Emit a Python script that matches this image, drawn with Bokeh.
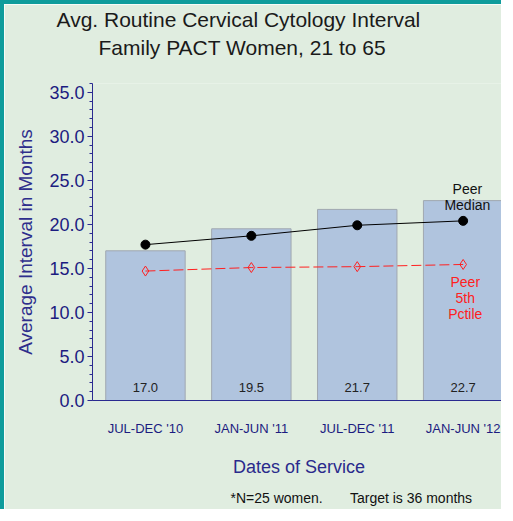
from bokeh.plotting import figure
from bokeh.models import Range1d, FixedTicker, SingleIntervalTicker, NumeralTickFormatter, ColumnDataSource, Title
from bokeh.embed import file_html
from bokeh.resources import INLINE
from bokeh.core.properties import value

categories = ["JUL-DEC '10", "JAN-JUN '11", "JUL-DEC '11", "JAN-JUN '12"]
avg_interval = [17.0, 19.5, 21.7, 22.7]
peer_median = [17.7, 18.7, 19.9, 20.4]
peer_5th = [14.7, 15.1, 15.2, 15.45]
xpos = [0.5, 1.5, 2.5, 3.5]

BG = "#E0EDE0"
NAVY = "#1c1c80"
FONT = "Liberation Sans"

p = figure(width=501, height=509, output_backend="svg", toolbar_location=None,
           x_range=Range1d(0, 3.9), y_range=Range1d(0, 36),
           min_border_left=88, min_border_right=0, min_border_top=79, min_border_bottom=112)
p.background_fill_color = BG
p.border_fill_color = BG
p.outline_line_color = None
p.xgrid.visible = False
p.ygrid.visible = False
p.styles = {"border-left": "4px solid #0E9C9C", "border-top": "4px solid #0E9C9C"}

src = ColumnDataSource(dict(x=xpos, top=avg_interval, med=peer_median, p5=peer_5th,
                            lab=["%.1f" % v for v in avg_interval]))
p.vbar(x="x", top="top", width=0.75, bottom=0, source=src,
       fill_color="#B0C4DE", line_color="#A0A8B0", line_width=1)
p.text(x="x", y=1.5, text="lab", source=src, text_align="center", text_baseline="middle",
       text_font=value(FONT), text_font_size="13px", text_color="#222222")

p.line(x="x", y="med", source=src, line_color="black", line_width=1)
p.scatter(x="x", y="med", source=src, marker="circle", size=9, fill_color="black", line_color="black")
p.line(x="x", y="p5", source=src, line_color="#FF2020", line_width=1, line_dash="10 4")
p.scatter(x="x", y="p5", source=src, marker="diamond", size=10, fill_color=None, line_color="#FF2020")

p.text(x=[3.54, 3.54], y=[24.0, 22.2], text=["Peer", "Median"], text_align="center",
       text_baseline="middle", text_font=value(FONT), text_font_size="14px", text_color="#111111")
p.text(x=[3.52, 3.52, 3.52], y=[13.5, 11.6, 9.8], text=["Peer", "5th", "Pctile"], text_align="center",
       text_baseline="middle", text_font=value(FONT), text_font_size="14px", text_color="#FF2020")

# axes
p.xaxis.ticker = FixedTicker(ticks=xpos)
p.xaxis.major_label_overrides = {x: c for x, c in zip(xpos, categories)}
p.xaxis.major_tick_out = 0
p.xaxis.major_tick_in = 0
p.xaxis.minor_tick_out = 0
p.xaxis.major_label_standoff = 20
p.xaxis.major_label_text_font = FONT
p.xaxis.major_label_text_font_size = "13px"
p.xaxis.major_label_text_color = NAVY
p.xaxis.axis_line_color = "#2a2a90"
p.xaxis.axis_label = "Dates of Service"
p.xaxis.axis_label_standoff = 18
p.xaxis.axis_label_text_font = FONT
p.xaxis.axis_label_text_font_size = "18px"
p.xaxis.axis_label_text_font_style = "normal"
p.xaxis.axis_label_text_color = "#2a2a8c"

p.yaxis.ticker = SingleIntervalTicker(interval=5, num_minor_ticks=5)
p.yaxis.formatter = NumeralTickFormatter(format="0.0")
p.yaxis.major_tick_out = 5
p.yaxis.major_tick_in = 0
p.yaxis.minor_tick_out = 3
p.yaxis.minor_tick_in = 0
p.yaxis.major_label_standoff = 3
p.yaxis.major_label_text_font = FONT
p.yaxis.major_label_text_font_size = "18px"
p.yaxis.major_label_text_color = NAVY
p.yaxis.axis_line_color = "#2a2a90"
p.yaxis.major_tick_line_color = "#2a2a90"
p.yaxis.minor_tick_line_color = "#2a2a90"
p.yaxis.axis_label = "Average Interval in Months"
p.yaxis.axis_label_standoff = 10
p.yaxis.axis_label_text_font = FONT
p.yaxis.axis_label_text_font_size = "19px"
p.yaxis.axis_label_text_font_style = "normal"
p.yaxis.axis_label_text_color = "#2e2e8c"

p.add_layout(Title(text="Family PACT Women, 21 to 65", align="left", offset=6, standoff=49,
                   text_font=FONT, text_font_size="21px", text_font_style="normal",
                   text_color="#1a1a1a"), "above")
p.add_layout(Title(text="Avg. Routine Cervical Cytology Interval", align="left", offset=-36, standoff=-42,
                   text_font=FONT, text_font_size="21px", text_font_style="normal",
                   text_color="#1a1a1a"), "above")
p.add_layout(Title(text="*N=25 women.\u00a0\u00a0\u00a0\u00a0\u00a0\u00a0\u00a0Target is 36 months",
                   align="left", offset=138, standoff=16,
                   text_font=FONT, text_font_size="14px", text_font_style="normal",
                   text_color="#111111"), "below")

open("out.html", "w").write(file_html(p, INLINE))
